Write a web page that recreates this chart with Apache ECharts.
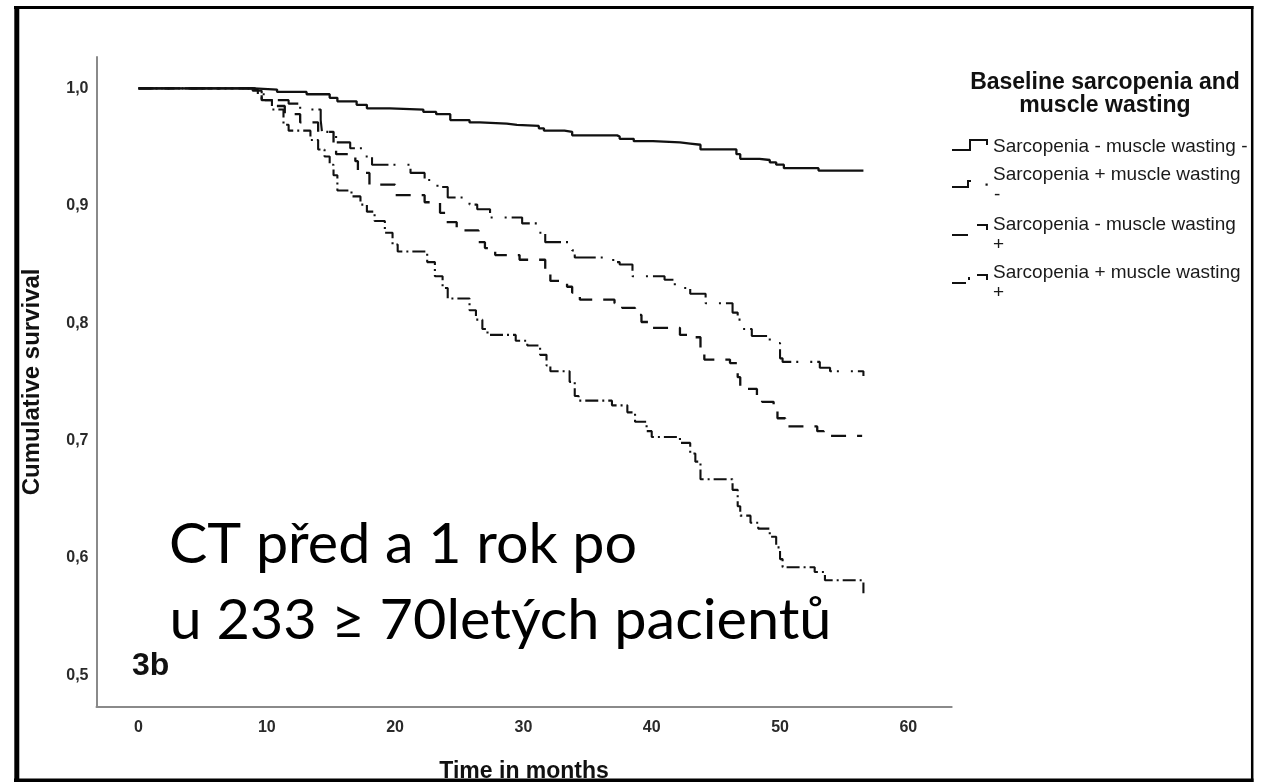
<!DOCTYPE html>
<html><head><meta charset="utf-8">
<script src="https://cdn.jsdelivr.net/npm/echarts@6/dist/echarts.min.js"></script>
<style>html,body{margin:0;padding:0;background:#fff}#c{width:1268px;height:782px}</style>
</head><body><div id="c"></div>
<script>
// ---- data ----
const xTickLabels = [0, 10, 20, 30, 40, 50, 60];
const yTickLabels = [0.5, 0.6, 0.7, 0.8, 0.9, 1.0];

const seriesNames = [
  'Sarcopenia - muscle wasting -',
  'Sarcopenia + muscle wasting -',
  'Sarcopenia - muscle wasting +',
  'Sarcopenia + muscle wasting +'
];

const noSarcNoWasteT = [0,9.0,10.8,13.1,14.9,15.5,17.0,17.8,19.6,22.2,23.2,24.3,25.8,26.6,28.7,29.5,31.2,31.6,33.2,33.8,37.3,37.5,38.6,40.1,42.2,43.0,43.8,46.6,46.9,48.4,49.2,49.7,50.3,53.0,56.5];
const noSarcNoWasteS = [1.000,0.999,0.997,0.995,0.992,0.989,0.986,0.983,0.982,0.980,0.978,0.973,0.971,0.970,0.969,0.968,0.966,0.964,0.963,0.960,0.959,0.957,0.955,0.954,0.953,0.952,0.948,0.944,0.940,0.939,0.937,0.935,0.932,0.930,0.930];

const sarcNoWasteT = [0,8.9,9.3,9.9,11.7,12.6,14.2,14.3,15.4,16.5,17.7,18.2,21.2,22.3,23.3,24.1,25.8,26.4,27.4,29.9,31.1,31.7,33.8,34.0,37.0,37.5,38.5,41.0,41.8,43.0,44.2,46.3,46.7,47.0,47.8,49.2,50.0,50.2,53.1,53.9,56.5];
const sarcNoWasteS = [1.000,0.999,0.995,0.990,0.987,0.982,0.973,0.963,0.954,0.949,0.942,0.935,0.928,0.922,0.916,0.907,0.901,0.897,0.890,0.885,0.877,0.869,0.862,0.856,0.852,0.850,0.840,0.837,0.830,0.825,0.817,0.809,0.803,0.795,0.789,0.783,0.770,0.767,0.762,0.759,0.755];

const noSarcWasteT = [0,9.1,9.6,10.6,11.4,12.6,14.0,15.2,15.4,16.9,17.1,18.0,20.0,22.3,23.5,23.9,24.8,26.5,27.0,27.8,29.7,31.7,32.1,33.4,33.8,34.4,37.1,37.7,38.7,39.2,39.9,42.2,43.0,43.8,44.1,46.1,46.7,46.9,48.2,48.6,49.5,49.8,50.4,52.9,53.4,56.4];
const noSarcWasteS = [1.000,0.997,0.990,0.985,0.978,0.971,0.963,0.952,0.944,0.938,0.928,0.918,0.909,0.903,0.894,0.886,0.879,0.869,0.864,0.858,0.854,0.843,0.836,0.831,0.826,0.820,0.817,0.813,0.807,0.801,0.796,0.790,0.788,0.777,0.769,0.766,0.754,0.744,0.738,0.733,0.726,0.719,0.712,0.708,0.704,0.704];

const sarcWasteT = [0,8.9,9.6,10.4,11.3,11.7,13.4,14.0,14.5,14.9,15.2,15.5,16.6,17.3,17.8,18.4,19.2,19.8,20.2,22.5,23.1,23.7,24.1,25.8,26.3,26.8,27.2,29.4,30.3,31.3,31.8,32.1,33.6,34.0,34.3,36.9,38.1,38.7,39.6,40.0,42.2,43.0,43.4,43.8,46.3,46.7,46.9,47.7,48.3,49.2,49.7,50.0,50.2,52.7,53.5,56.5];
const sarcWasteS = [1.000,0.998,0.990,0.982,0.969,0.964,0.956,0.948,0.942,0.935,0.926,0.913,0.908,0.901,0.895,0.887,0.877,0.867,0.861,0.852,0.840,0.830,0.821,0.811,0.803,0.795,0.790,0.785,0.781,0.773,0.764,0.759,0.750,0.738,0.734,0.730,0.724,0.716,0.708,0.703,0.698,0.689,0.682,0.667,0.658,0.644,0.636,0.630,0.625,0.618,0.609,0.599,0.592,0.588,0.581,0.570];

const legendTitle = ['Baseline sarcopenia and', 'muscle wasting'];
const overlayLines = ['CT před a 1 rok po', 'u 233 ≥ 70letých pacientů'];
const panelLabel = '3b';

// ---- build ----
const zip = (t, s) => t.map((v, i) => [v, s[i]]);
const ink = '#111';
const dashes = ['solid', [24, 5, 2, 12, 2, 5], [15, 11], [13, 4, 2, 4]];
const widths = [2.3, 2.1, 2.3, 2.1];
const dataSets = [zip(noSarcNoWasteT, noSarcNoWasteS), zip(sarcNoWasteT, sarcNoWasteS),
                  zip(noSarcWasteT, noSarcWasteS), zip(sarcWasteT, sarcWasteS)];

const series = dataSets.map((d, i) => ({
  name: seriesNames[i], type: 'line', step: 'end', data: d,
  showSymbol: false, symbol: 'none', silent: true, z: i === 0 ? 5 : 3,
  lineStyle: { color: ink, width: widths[i], type: dashes[i], cap: 'butt' }
}));

function measure(txt, font) {
  const c = document.createElement('canvas').getContext('2d');
  c.font = font; return c.measureText(txt).width;
}
const bigFont = 'Lato, "Open Sans", sans-serif';
const bigSize = 56;
const bigTargets = [468, 662];
const bigScale = overlayLines.map((l, i) => bigTargets[i] / measure(l, `${bigSize}px ${bigFont}`));

const txt = (text, x, y, size, extra) => ({
  type: 'text', x, y, silent: true, z: 50,
  style: Object.assign({ text, fontSize: size, fontFamily: 'Liberation Sans, Arial, sans-serif',
    fill: '#1a1a1a', verticalAlign: 'middle', align: 'left' }, extra || {})
});

const legendX = 993;
const itemY = [147, 175, 225, 273];
const graphic = [
  txt(legendTitle[0], 1105, 83, 23, { align: 'center', fontWeight: 'bold', fill: '#111' }),
  txt(legendTitle[1], 1105, 106, 23, { align: 'center', fontWeight: 'bold', fill: '#111' }),
  txt(seriesNames[0], legendX, itemY[0], 19),
  txt('Sarcopenia + muscle wasting', legendX, itemY[1], 19),
  txt('-', legendX + 1, itemY[1] + 20, 19),
  txt('Sarcopenia - muscle wasting', legendX, itemY[2], 19),
  txt('+', legendX, itemY[2] + 20, 19),
  txt('Sarcopenia + muscle wasting', legendX, itemY[3], 19),
  txt('+', legendX, itemY[3] + 20, 19),
  // legend keys
  { type: 'polyline', silent: true, z: 50, shape: { points: [[952,150],[970,150],[970,140],[987,140],[987,145]] }, style: { stroke: ink, lineWidth: 2, fill: null } },
  { type: 'polyline', silent: true, z: 50, shape: { points: [[952,187],[968,187],[968,181],[971,181]] }, style: { stroke: ink, lineWidth: 2, fill: null } },
  { type: 'rect', silent: true, z: 50, shape: { x: 985.5, y: 183.5, width: 2.2, height: 2.2 }, style: { fill: ink } },
  { type: 'polyline', silent: true, z: 50, shape: { points: [[952,235],[968,235]] }, style: { stroke: ink, lineWidth: 2, fill: null } },
  { type: 'polyline', silent: true, z: 50, shape: { points: [[977,225],[987,225],[987,230]] }, style: { stroke: ink, lineWidth: 2, fill: null } },
  { type: 'polyline', silent: true, z: 50, shape: { points: [[952,283],[966,283]] }, style: { stroke: ink, lineWidth: 2, fill: null } },
  { type: 'polyline', silent: true, z: 50, shape: { points: [[969,277],[969,280]] }, style: { stroke: ink, lineWidth: 2, fill: null } },
  { type: 'polyline', silent: true, z: 50, shape: { points: [[977,275],[987,275],[987,280]] }, style: { stroke: ink, lineWidth: 2, fill: null } },
  // panel label and overlay text
  txt(panelLabel, 132, 666, 32, { fill: '#111', fontWeight: 'bold' }),
  { type: 'text', silent: true, z: 60, x: 169, y: 545, scaleX: bigScale[0],
    style: { text: overlayLines[0], fontSize: bigSize, fontFamily: bigFont, fill: '#000', verticalAlign: 'middle', align: 'left' } },
  { type: 'text', silent: true, z: 60, x: 169.5, y: 621, scaleX: bigScale[1],
    style: { text: overlayLines[1], fontSize: bigSize, fontFamily: bigFont, fill: '#000', verticalAlign: 'middle', align: 'left' } },
  // clip beyond the frame, then the frame
  { type: 'rect', silent: true, z: 90, shape: { x: 1253, y: 0, width: 20, height: 782 }, style: { fill: '#fff' } },
  { type: 'line', silent: true, z: 100, shape: { x1: 16.8, y1: 6, x2: 16.8, y2: 782 }, style: { stroke: '#000', lineWidth: 5 } },
  { type: 'line', silent: true, z: 100, shape: { x1: 14, y1: 7.6, x2: 1253.5, y2: 7.6 }, style: { stroke: '#000', lineWidth: 3 } },
  { type: 'line', silent: true, z: 100, shape: { x1: 1252.2, y1: 6, x2: 1252.2, y2: 782 }, style: { stroke: '#000', lineWidth: 2.5 } },
  { type: 'line', silent: true, z: 100, shape: { x1: 14, y1: 780.5, x2: 1253.5, y2: 780.5 }, style: { stroke: '#000', lineWidth: 4 } }
];

const axisLabelStyle = { fontSize: 16, fontWeight: 'bold', color: '#2a2a2a', fontFamily: 'Liberation Sans, Arial, sans-serif' };
const option = {
  animation: false,
  backgroundColor: '#fff',
  grid: { left: 96.5, top: 57, width: 855.2, height: 649.7, containLabel: false, outerBoundsMode: 'none' },
  xAxis: {
    type: 'value', min: -3.274, max: 63.38,
    axisLine: { show: true, onZero: false, lineStyle: { color: '#8a8a8a', width: 2 } },
    axisTick: { show: false }, splitLine: { show: false },
    axisLabel: Object.assign({ customValues: xTickLabels, margin: 13, formatter: v => String(Math.round(v)) }, axisLabelStyle),
    name: 'Time in months', nameLocation: 'middle', nameGap: 53,
    nameTextStyle: { fontSize: 23, fontWeight: 'bold', color: '#111', fontFamily: 'Liberation Sans, Arial, sans-serif' }
  },
  yAxis: {
    type: 'value', min: 0.47325, max: 1.02675,
    axisLine: { show: true, onZero: false, lineStyle: { color: '#8a8a8a', width: 2 } },
    axisTick: { show: false }, splitLine: { show: false },
    axisLabel: Object.assign({ customValues: yTickLabels, margin: 8, formatter: v => v.toFixed(1).replace('.', ',') }, axisLabelStyle),
    name: 'Cumulative survival', nameLocation: 'middle', nameGap: 52, nameRotate: 90,
    nameTextStyle: { fontSize: 24, fontWeight: 'bold', color: '#111', fontFamily: 'Liberation Sans, Arial, sans-serif' }
  },
  series,
  graphic
};
const chart = echarts.init(document.getElementById('c'), null, { renderer: 'canvas' });
chart.setOption(option);
</script></body></html>
